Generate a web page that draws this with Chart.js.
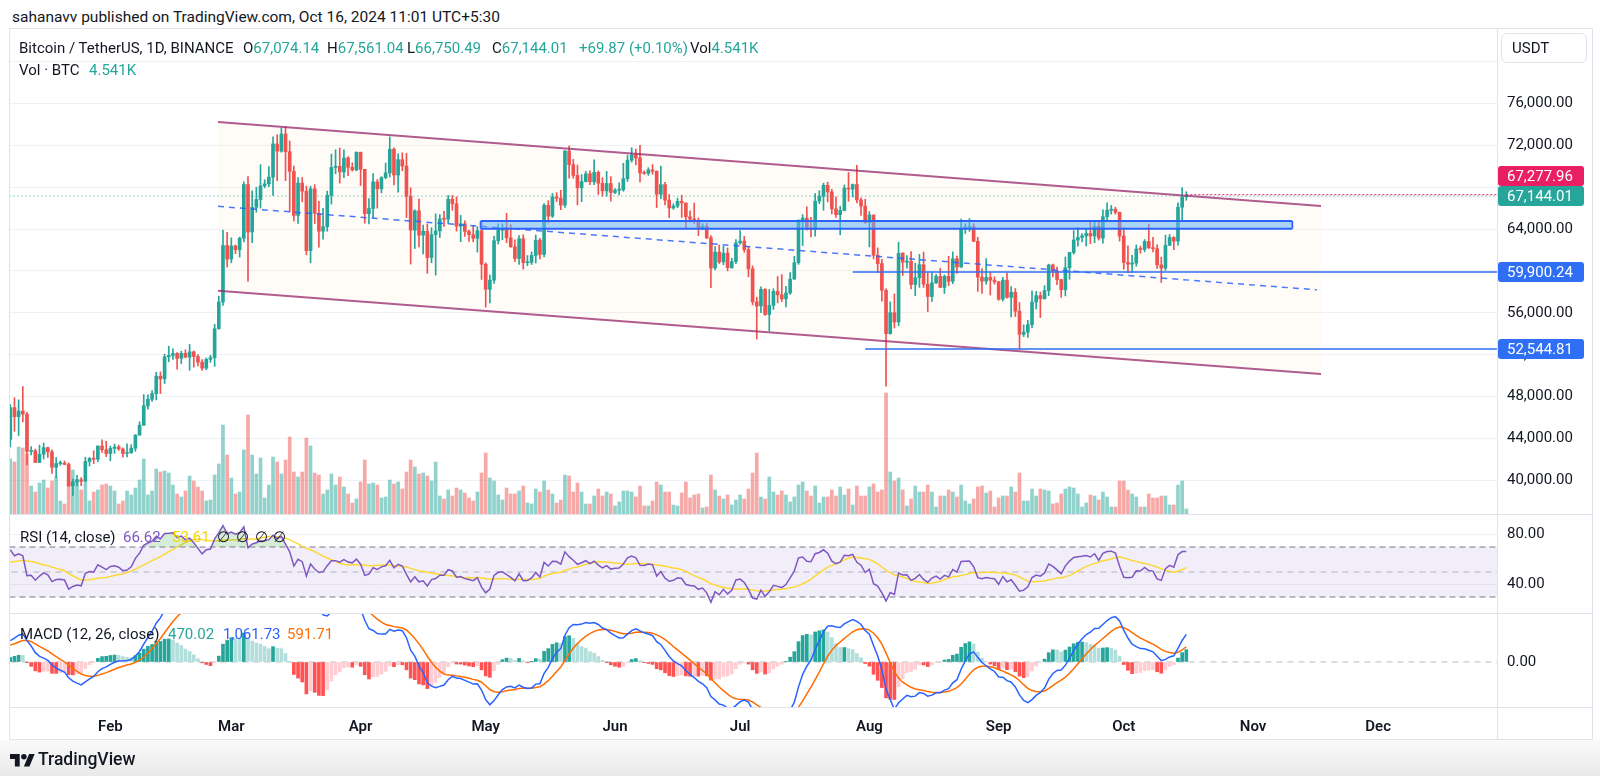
<!DOCTYPE html>
<html>
<head>
<meta charset="utf-8">
<script src="https://cdn.jsdelivr.net/npm/chart.js@4.4.1/dist/chart.umd.min.js"></script>
<style>
  html, body { margin: 0; padding: 0; background: #fff; }
  body { width: 1600px; height: 776px; position: relative; overflow: hidden;
         font-family: Roboto, "Noto Sans", sans-serif; color: #131722; }
  .abs { position: absolute; white-space: nowrap; }
  canvas { position: absolute; }
  .sep { position: absolute; background: #e0e3eb; }
  .row { position: absolute; height: 20px; line-height: 20px; font-size: 15px; white-space: nowrap; }
  .row span { position: absolute; top: 0; }
  .row span span { position: static; }
  .up { color: #26a69a; }
  #footer { position: absolute; left: 0; top: 740px; width: 1600px; height: 36px;
            background: linear-gradient(#fafafa, #e9e9e9); }
</style>
</head>
<body>

<div class="row" style="left:12px;top:7px;font-size:15.5px;">sahanavv published on TradingView.com, Oct 16, 2024 11:01 UTC+5:30</div>

<canvas id="price" width="1582" height="486" style="left:10px;top:28px;"></canvas>
<canvas id="rsi" width="1582" height="99" style="left:10px;top:514px;"></canvas>
<canvas id="macd" width="1582" height="126" style="left:10px;top:613px;"></canvas>

<div class="sep" style="left:10px;top:514px;width:1582px;height:1px;"></div>
<div class="sep" style="left:10px;top:613px;width:1582px;height:1px;"></div>
<div class="sep" style="left:10px;top:707px;width:1582px;height:1px;"></div>
<div class="sep" style="left:1497px;top:28px;width:1px;height:711px;"></div>
<div class="abs" style="left:9px;top:28px;width:1582px;height:710px;border:1px solid #e0e3eb;"></div>

<!-- legends -->
<div class="row" style="left:0;top:38px;width:900px;">
  <span style="left:19px">Bitcoin / TetherUS, 1D, BINANCE</span>
  <span style="left:243px">O<span class="up">67,074.14</span></span>
  <span style="left:327px">H<span class="up">67,561.04</span></span>
  <span style="left:407px">L<span class="up">66,750.49</span></span>
  <span style="left:492px">C<span class="up">67,144.01</span></span>
  <span style="left:579px" class="up">+69.87 (+0.10%)</span>
  <span style="left:690px">Vol<span class="up">4.541K</span></span>
</div>
<div class="row" style="left:0;top:60px;width:300px;">
  <span style="left:19px">Vol · BTC</span>
  <span style="left:89px" class="up">4.541K</span>
</div>
<div class="row" style="left:0;top:527px;width:400px;">
  <span style="left:20px">RSI (14, close)</span>
  <span style="left:123px;color:#7e57c2">66.62</span>
  <span style="left:172px;color:#f5d500">53.61</span>
  <span style="left:217px">∅</span>
  <span style="left:236px">∅</span>
  <span style="left:255px">∅</span>
  <span style="left:273px">∅</span>
</div>
<div class="row" style="left:0;top:624px;width:400px;">
  <span style="left:20px">MACD (12, 26, close)</span>
  <span style="left:168px;color:#26a69a">470.02</span>
  <span style="left:223px;color:#2962ff">1,061.73</span>
  <span style="left:287px;color:#ff6d00">591.71</span>
</div>

<div class="abs" style="left:1501px;top:33px;width:84px;height:28px;border:1px solid #e0e3eb;border-radius:6px;font-size:15px;line-height:28px;">
  <span style="margin-left:10px">USDT</span>
</div>

<div id="footer">
  <svg style="position:absolute;left:10px;top:11px" width="25" height="20" viewBox="0 0 36 28">
    <path d="M14 22H7V11H0V4h14v18zM28 22h-8l7.5-18h8L28 22z" fill="#131722"/>
    <circle cx="20" cy="8" r="4" fill="#131722"/>
  </svg>
  <div class="abs" style="left:38px;top:8px;font-size:17.5px;line-height:22px;font-weight:500;">TradingView</div>
</div>

<script>
// ---- data: BTC/USDT daily, Jan 8 2024 (index 0) .. Oct 16 2024 (index 282)
const opens = [
  43930,46960,46100,46630,46340,42780,42840,41730,42510,43140,42740,41260,41620,41660,41540,39500,39880,40080,39930,41820,42120,42030,43300,42940,
  42580,43080,43200,43010,42580,42660,43090,44340,45290,47130,47750,48290,49960,49700,51810,51940,52120,51660,52140,51780,52280,51840,51300,50730,51570,51730,54480,57040,62430,
  61130,62390,62030,63130,68250,63720,66070,66820,68120,68310,68950,72120,71440,73070,71380,69500,65300,68390,67610,61940,67840,65500,63800,64220,67210,69880,69990,69450,70780,69890,69640,
  71330,69700,65460,65960,68500,67840,68900,69360,71620,69150,70620,70010,67120,63900,65740,63420,63790,61280,63470,63820,64960,64940,66840,66410,64280,64500,63770,63460,63120,63840,
  60640,58250,59120,62890,63890,64030,63160,62310,61190,63070,60790,60820,61480,62940,61580,66270,65230,67050,66940,66280,71450,70140,69120,67930,68530,69270,68510,69400,68370,67640,68350,
  67490,67710,67750,68800,70570,71080,70790,69360,69310,69650,69510,67320,68240,66760,66010,66190,66640,66490,65170,64960,64830,64100,64260,63160,60280,61800,60860,61700,60320,60890,
  62680,62850,62030,60200,57050,56660,58240,55850,56710,58050,57720,57340,57900,59230,60790,64720,65040,64090,63990,66660,67140,68170,67540,65930,65370,65780,67910,67810,68250,66780,66190,
  64620,65350,61500,60700,58160,54020,56020,55130,61690,60840,60920,58710,59350,60600,58740,57560,58870,59480,58430,59490,59010,61160,60380,64090,64160,64220,62830,59420,59030,59380,59120,
  58970,57300,59130,57480,57970,56160,53950,54160,54870,57040,57650,57340,58130,60570,60000,59180,58210,60310,61760,62950,63200,63350,63580,63340,64260,63140,65180,65790,65890,65600,
  63330,60810,60650,60750,62090,62050,62820,62220,62130,60580,60270,62450,63190,62850,66080,67074.14
];
const highs = [
  47250,47900,47700,48970,46500,43250,43000,43380,43580,43200,42930,42200,41880,41870,41690,40130,40500,40280,42230,42200,42840,43300,43880,43740,
  43290,43480,43380,43120,43500,43420,44380,45600,48200,48170,48590,50330,50370,52050,52820,52570,52200,52350,52480,52990,52370,52020,51540,51700,51950,54910,57590,63900,63680,
  63160,62480,63230,68500,69000,67640,67990,70140,68700,69950,72800,73000,73650,73780,72400,70000,68900,68930,68100,68100,68240,66650,65970,67620,71150,71560,71730,71550,70920,70320,71370,
  71340,69700,66910,69290,68720,69000,70300,72800,71750,71170,71280,71230,67930,65840,66870,64370,64480,64130,65450,65390,65700,67200,67200,67070,65300,64790,63900,64340,64220,64730,
  60780,59600,63330,64490,64500,65500,64420,62980,63380,63450,61470,61820,63440,63120,66440,66700,67400,67470,67700,71500,71950,70650,70100,69200,69500,69560,70600,69550,68900,69500,69000,
  67860,68410,70280,71060,71760,71630,71990,69560,69850,70150,69560,70000,68450,67300,66400,66960,67240,66490,65730,66480,65070,64520,64540,63370,62330,62480,62370,62200,61210,63000,
  63860,63290,62290,60490,57500,58480,58320,58240,58300,59470,59650,58530,59850,61400,64900,65380,66130,65110,67390,67660,68380,68480,67800,67080,66180,68210,69400,68300,70080,66980,66850,
  65660,65000,62200,61120,58300,57040,57800,62750,61750,61470,61860,60730,61580,61800,59850,59850,59690,60260,59620,61400,61820,61420,64950,64520,65000,64500,63210,60230,61190,59840,59450,
  59000,59400,59800,58520,58320,56990,54850,55300,58100,58040,57990,58600,60650,60660,60380,59210,61330,61790,63850,64130,63560,64000,64750,64800,64800,65840,66500,66250,66080,65620,
  64130,62400,61480,62480,62370,63000,64480,63200,62500,61320,63420,63480,63280,66500,67950,67561.04
];
const lows = [
  43200,44700,44300,45600,41500,42440,41720,41700,42050,42200,40680,40280,41450,41500,39430,38550,39490,39500,39830,41390,41620,41800,42690,42280,
  41880,42590,42880,42220,42260,42580,42790,44330,45240,46800,47560,47700,48300,49260,51330,51550,50630,51160,51710,50520,50830,50930,50520,50580,51280,50900,54450,56700,60390,
  60780,61650,61320,62780,59000,62700,65600,66000,67930,68050,67200,68620,71330,68620,65630,64780,64540,66600,61550,60780,64530,62260,63040,63790,66380,69280,68380,68900,69100,69520,69560,
  68150,64550,64500,65090,66000,67450,68800,68950,68200,67520,69560,65090,60660,62140,62300,61620,59770,60780,59600,63200,64240,64500,65800,63800,62790,63300,62810,62780,61800,59190,
  56550,56940,58800,62580,62980,62700,62250,60880,60630,60180,60500,60620,60760,61150,61330,64600,65100,66610,65850,66070,68860,68850,66300,66620,68490,68230,68230,67300,67140,67130,66670,
  67380,67260,67610,68550,70380,70120,68500,69210,69130,69230,66050,66900,66300,65080,65880,66040,65110,64060,64690,64540,63380,63930,63080,58400,60110,60710,60600,60000,60250,60700,
  62530,61780,59440,56770,53500,56030,55750,54270,56330,56950,57080,56560,57760,59190,60630,62430,63900,63250,63310,66420,65790,66600,65450,65110,63450,65730,66650,67050,66500,65310,64540,
  62300,61150,59850,57120,49000,53960,54560,54770,59560,60260,58290,57640,58440,58430,56130,57100,58780,58400,57850,58590,58780,59770,60340,63580,63780,62800,58040,57860,58750,57700,58750,
  57200,57130,57410,55610,55650,52550,53740,53650,54600,56380,55550,57330,57640,59420,58700,57490,57620,59200,61600,62360,62760,62380,62600,62700,62950,62660,64820,65420,65430,62850,
  60160,59830,59830,60460,61690,61830,62120,61820,60250,58900,60060,62420,62030,62450,64800,66750.49
];
const closes = [
  46960,46100,46630,46340,42780,42840,41730,42510,43140,42740,41260,41620,41660,41540,39500,39880,40080,39930,41820,42120,42030,43300,42940,42580,
  43080,43200,43010,42580,42660,43090,44340,45290,47130,47750,48290,49960,49700,51810,51940,52120,51660,52140,51780,52280,51840,51300,50730,51570,51730,54480,57040,62430,61130,
  62390,62030,63130,68250,63720,66070,66820,68120,68310,68950,72120,71440,73070,71380,69500,65300,68390,67610,61940,67840,65500,63800,64220,67210,69880,69990,69450,70780,69890,69640,71330,
  69700,65460,65960,68500,67840,68900,69360,71620,69150,70620,70010,67120,63900,65740,63420,63790,61280,63470,63820,64960,64940,66840,66410,64280,64500,63770,63460,63120,63840,60640,
  58250,59120,62890,63890,64030,63160,62310,61190,63070,60790,60820,61480,62940,61580,66270,65230,67050,66940,66280,71450,70140,69120,67930,68530,69270,68510,69400,68370,67640,68350,67490,
  67710,67750,68800,70570,71080,70790,69360,69310,69650,69510,67320,68240,66760,66010,66190,66640,66490,65170,64960,64830,64100,64260,63160,60280,61800,60860,61700,60320,60890,62680,
  62850,62030,60200,57050,56660,58240,55850,56710,58050,57720,57340,57900,59230,60790,64720,65040,64090,63990,66660,67140,68170,67540,65930,65370,65780,67910,67810,68250,66780,66190,64620,
  65350,61500,60700,58160,54020,56020,55130,61690,60840,60920,58710,59350,60600,58740,57560,58870,59480,58430,59490,59010,61160,60380,64090,64160,64220,62830,59420,59030,59380,59120,58970,
  57300,59130,57480,57970,56160,53950,54160,54870,57040,57650,57340,58130,60570,60000,59180,58210,60310,61760,62950,63200,63350,63580,63340,64260,63140,65180,65790,65890,65600,63330,
  60810,60650,60750,62090,62050,62820,62220,62130,60580,60270,62450,63190,62850,66080,67070,67144.01
];
// volume, K BTC
const volumes = [
  55,52,67,66,60,28,22,31,34,26,33,37,13,10,31,44,33,24,31,13,22,24,29,30,
  28,23,10,13,23,19,26,34,55,19,23,45,42,43,41,29,20,17,23,38,33,27,23,13,14,39,50,89,59,
  36,20,22,64,99,59,40,56,16,29,57,52,40,54,77,42,37,42,76,68,41,39,20,24,40,29,37,27,20,11,15,
  32,54,30,31,29,16,17,34,30,32,25,42,54,47,40,41,38,33,52,18,15,24,18,26,24,21,16,13,22,41,
  61,36,33,19,14,26,20,20,23,28,11,10,25,22,33,24,20,11,14,39,38,22,31,22,10,10,18,25,18,22,20,
  8,12,23,23,22,17,28,8,8,13,32,29,22,22,9,8,21,32,16,19,20,6,7,39,24,18,15,19,9,14,
  19,15,25,41,61,17,15,37,22,19,23,19,12,17,29,32,23,18,28,11,17,17,24,18,27,19,25,9,28,18,18,
  27,30,22,24,121,42,33,36,24,8,15,28,22,22,29,22,7,18,18,24,22,17,29,13,10,15,27,28,21,23,7,
  16,18,18,27,22,41,13,13,25,18,25,24,23,10,11,20,25,27,26,20,7,11,19,18,14,22,17,7,7,33,
  33,24,20,17,7,7,20,16,16,18,18,9,9,29,33,5
];
// closes before Jan 8 (Nov 28 2023 .. Jan 7 2024), only used to seed RSI / MACD
const warmupCloses = [
  37820,37860,37710,38690,39470,39980,41990,44080,43770,43290,44170,43710,43790,41240,41450,42890,43020,41940,42260,41370,
  42660,42260,43650,43860,43990,43730,43010,43580,42510,43440,42580,42070,42140,42280,44180,44950,42850,44150,44160,43970,43930
];

const monthTicks = [24, 53, 84, 114, 145, 175, 206, 237, 267, 298, 328];
const monthNames = ['Feb', 'Mar', 'Apr', 'May', 'Jun', 'Jul', 'Aug', 'Sep', 'Oct', 'Nov', 'Dec'];
const priceTicks = [40000, 44000, 48000, 52000, 56000, 60000, 64000, 68000, 72000, 76000, 80000];

// drawings: [day index, price]
const channelTop = [[49.8, 74215], [314.3, 66200]];
const channelBottom = [[49.8, 58117], [314.3, 50167]];
const channelMid = [[49.8, 66166], [313.3, 58200]];
const zoneBox = { from: 112.8, to: 307.4, top: 64770, bottom: 64040 };
const supportLines = [{ price: 59900.24, from: 202 }, { price: 52544.81, from: 205 }];
const lastPrice = 67144.01;
const markPrice = { price: 67277.96, from: 282 };

// ---- chart setup
Chart.defaults.font.family = 'Roboto, "Noto Sans", sans-serif';
Chart.defaults.font.size = 15;
Chart.defaults.color = '#131722';
Chart.defaults.elements.point.radius = 0;

const UP = '#26a69a', DOWN = '#ef5350';
const X_MIN = -0.07, X_MAX = 356.5, AXIS_W = 95, FAR = 400;

const fmt = v => v.toLocaleString('en-US', { minimumFractionDigits: 2, maximumFractionDigits: 2 });
const pts = arr => arr.map(([x, y]) => ({ x, y }));
const hline = (y, from, to) => [{ x: from, y }, { x: to, y }];

function hiddenX() {
  return { type: 'linear', min: X_MIN, max: X_MAX, offset: false, display: false, grid: { offset: false } };
}
function rightAxis(min, max, tickVals, label, gridColor) {
  return {
    position: 'right', min, max,
    grid: { color: gridColor, drawTicks: false },
    border: { display: false },
    afterBuildTicks: s => { s.ticks = tickVals.map(v => ({ value: v })); },
    afterFit: s => { s.width = AXIS_W; s.paddingTop = 0; s.paddingBottom = 0; },
    ticks: { autoSkip: false, padding: 10, callback: label }
  };
}
const baseOpts = {
  animation: false, responsive: false, devicePixelRatio: 1, events: [],
  layout: { padding: 0 },
  plugins: { legend: { display: false }, tooltip: { enabled: false } }
};

// ---- indicators from the closes
function rsiSeries(src, len) {
  const out = src.map(() => null);
  let au = 0, ad = 0;
  for (let i = 1; i < src.length; i++) {
    const ch = src[i] - src[i - 1];
    const u = Math.max(ch, 0), d = Math.max(-ch, 0);
    if (i <= len) { au += u / len; ad += d / len; }
    else { au = (au * (len - 1) + u) / len; ad = (ad * (len - 1) + d) / len; }
    if (i >= len) out[i] = ad === 0 ? 100 : 100 - 100 / (1 + au / ad);
  }
  return out;
}
function smaSeries(src, len) {
  return src.map((v, i) => {
    if (i < len - 1) return null;
    const win = src.slice(i - len + 1, i + 1);
    if (win.some(w => w == null)) return null;
    return win.reduce((a, b) => a + b, 0) / len;
  });
}
function emaSeries(src, len) {
  const k = 2 / (len + 1); let prev = null;
  return src.map(v => { if (v == null) return null; prev = prev == null ? v : v * k + prev * (1 - k); return prev; });
}

const W = warmupCloses.length;
const allCloses = warmupCloses.concat(closes);
const rsiAll = rsiSeries(allCloses, 14);
const rsiMaAll = smaSeries(rsiAll, 14);
const ema12 = emaSeries(allCloses, 12), ema26 = emaSeries(allCloses, 26);
const macdAll = ema12.map((v, i) => v - ema26[i]);
const signalAll = emaSeries(macdAll, 9);
const histAll = macdAll.map((v, i) => v - signalAll[i]);

const candleColors = closes.map((c, i) => c >= opens[i] ? UP : DOWN);
const volColors = closes.map((c, i) => c >= opens[i] ? 'rgba(38,166,154,0.5)' : 'rgba(239,83,80,0.5)');
const histColors = closes.map((c, i) => {
  const h = histAll[W + i], p = histAll[W + i - 1];
  if (h >= 0) return p < h ? '#26a69a' : '#b2dfdb';
  return p < h ? '#ffcdd2' : '#ff5252';
});

// ---- price tags on the axis
const priceTagPlugin = {
  id: 'priceTags',
  afterDraw(chart) {
    const y = chart.scales.y, ctx = chart.ctx;
    const left = chart.chartArea.right + 1;
    const lastY = y.getPixelForValue(lastPrice);
    const tags = [
      { v: markPrice.price, c: '#e91e63', y: Math.min(y.getPixelForValue(markPrice.price), lastY - 20) },
      { v: lastPrice, c: UP, y: lastY }
    ].concat(supportLines.map(s => ({ v: s.price, c: '#2f6ff5', y: y.getPixelForValue(s.price) })));
    ctx.save();
    tags.forEach(t => {
      ctx.fillStyle = t.c;
      ctx.beginPath();
      ctx.roundRect(left, t.y - 10, 86, 20, 3);
      ctx.fill();
      ctx.fillStyle = '#fff';
      ctx.font = '15px Roboto, "Noto Sans", sans-serif';
      ctx.textBaseline = 'middle';
      ctx.textAlign = 'left';
      ctx.fillText(fmt(t.v), left + 9, t.y + 1);
    });
    ctx.restore();
  }
};

const lineDs = (data, color, width, extra) => Object.assign(
  { type: 'line', data, borderColor: color, borderWidth: width, fill: false, pointRadius: 0 }, extra || {});

// ---- price panel
new Chart(document.getElementById('price'), {
  type: 'bar',
  data: {
    datasets: [
      { type: 'bar', yAxisID: 'yv', grouped: false, order: 100, barThickness: 3,
        data: volumes.map((v, i) => ({ x: i, y: v })), backgroundColor: volColors },
      lineDs(pts(channelTop), 'rgba(0,0,0,0)', 0, { order: 95 }),
      lineDs(pts(channelBottom), 'rgba(0,0,0,0)', 0, { order: 95, fill: '-1', backgroundColor: 'rgba(250,222,160,0.08)' }),
      { type: 'bar', grouped: false, order: 60, barThickness: 1,
        data: highs.map((h, i) => ({ x: i, y: [lows[i], h] })), backgroundColor: candleColors },
      { type: 'bar', grouped: false, order: 59, barThickness: 3, minBarLength: 1,
        data: closes.map((c, i) => ({ x: i, y: [Math.min(opens[i], c), Math.max(opens[i], c)] })),
        backgroundColor: candleColors },
      lineDs(pts(channelTop), 'rgba(150,38,105,0.75)', 2, { order: 40 }),
      lineDs(pts(channelBottom), 'rgba(150,38,105,0.75)', 2, { order: 40 }),
      lineDs(pts(channelMid), 'rgba(41,98,255,0.85)', 1.5, { order: 41, borderDash: [6, 5] }),
      lineDs(hline(zoneBox.top, zoneBox.from, zoneBox.to), '#2962ff', 2, { order: 30 }),
      lineDs(hline(zoneBox.bottom, zoneBox.from, zoneBox.to), '#2962ff', 2,
        { order: 30, fill: '-1', backgroundColor: 'rgba(100,181,246,0.55)' }),
      lineDs([{ x: zoneBox.from, y: zoneBox.bottom }, { x: zoneBox.from, y: zoneBox.top }], '#2962ff', 2, { order: 30 }),
      lineDs([{ x: zoneBox.to, y: zoneBox.bottom }, { x: zoneBox.to, y: zoneBox.top }], '#2962ff', 2, { order: 30 }),
      lineDs(hline(supportLines[0].price, supportLines[0].from, FAR), '#2f6ff5', 1.5, { order: 20 }),
      lineDs(hline(supportLines[1].price, supportLines[1].from, FAR), '#2f6ff5', 1.5, { order: 20 }),
      lineDs(hline(lastPrice, -5, FAR), UP, 1, { order: 12, borderDash: [1, 3] }),
      lineDs(hline(markPrice.price, markPrice.from, FAR), '#e91e63', 1, { order: 11, borderDash: [2, 2] })
    ]
  },
  options: Object.assign({}, baseOpts, {
    scales: {
      x: hiddenX(),
      y: rightAxis(36807, 83186, priceTicks, v => v === 80000 ? '' : fmt(v), '#f0f1f4'),
      yv: { display: false, min: 0, max: 486 }
    }
  }),
  plugins: [priceTagPlugin]
});

// ---- RSI panel
new Chart(document.getElementById('rsi'), {
  type: 'line',
  data: {
    datasets: [
      lineDs(hline(70, -5, FAR), '#787b86', 1, { borderDash: [6, 4], order: 10 }),
      lineDs(hline(30, -5, FAR), '#787b86', 1, { borderDash: [6, 4], order: 10, fill: '-1', backgroundColor: 'rgba(126,87,194,0.1)' }),
      lineDs(hline(50, -5, FAR), 'rgba(120,123,134,0.5)', 1, { borderDash: [6, 5], order: 10 }),
      lineDs(closes.map((c, i) => ({ x: i, y: rsiAll[W + i] })), '#7e57c2', 1.5,
        { order: 2, fill: { target: { value: 70 }, above: 'rgba(76,175,80,0.22)', below: 'rgba(0,0,0,0)' } }),
      lineDs(closes.map((c, i) => ({ x: i, y: rsiMaAll[W + i] })), '#fdd835', 1.5, { order: 3 })
    ]
  },
  options: Object.assign({}, baseOpts, {
    scales: {
      x: hiddenX(),
      y: rightAxis(17.2, 96.4, [40, 80], v => v.toFixed(2), '#f0f1f4')
    }
  })
});

// ---- MACD panel with the date axis
new Chart(document.getElementById('macd'), {
  type: 'bar',
  data: {
    datasets: [
      lineDs(hline(0, -5, FAR), 'rgba(120,123,134,0.5)', 1, { borderDash: [6, 5], order: 20 }),
      { type: 'bar', grouped: false, order: 10, barThickness: 3,
        data: closes.map((c, i) => ({ x: i, y: histAll[W + i] })), backgroundColor: histColors },
      lineDs(closes.map((c, i) => ({ x: i, y: macdAll[W + i] })), '#2962ff', 1.5, { order: 2 }),
      lineDs(closes.map((c, i) => ({ x: i, y: signalAll[W + i] })), '#ff6d00', 1.5, { order: 3 })
    ]
  },
  options: Object.assign({}, baseOpts, {
    scales: {
      x: {
        type: 'linear', min: X_MIN, max: X_MAX, offset: false,
        grid: { display: false, drawTicks: false, offset: false },
        border: { display: false },
        afterBuildTicks: s => { s.ticks = monthTicks.map(v => ({ value: v })); },
        afterFit: s => { s.height = 32; s.paddingLeft = 0; s.paddingRight = 0; },
        ticks: { autoSkip: false, maxRotation: 0, padding: 11, font: { size: 15, weight: '600' },
                 callback: (v, i) => monthNames[i] }
      },
      y: rightAxis(-1724, 1877, [0], v => v.toFixed(2), 'rgba(0,0,0,0)')
    }
  })
});
</script>
</body>
</html>
